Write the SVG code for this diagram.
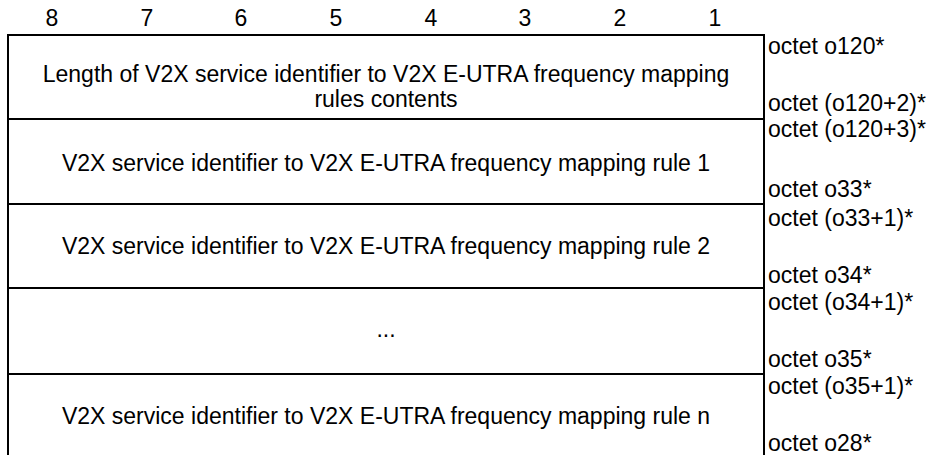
<svg xmlns="http://www.w3.org/2000/svg" width="934" height="455" viewBox="0 0 934 455">
<style>
text{font-family:"Liberation Sans",Arial,sans-serif;font-size:23px;fill:#000}
.c{text-anchor:middle}
.ln{stroke:#000;stroke-width:2;fill:none}
</style>
<rect width="934" height="455" fill="#fff"/>
<g id="header">
<text class="c" x="52" y="26">8</text>
<text class="c" x="147" y="26">7</text>
<text class="c" x="241" y="26">6</text>
<text class="c" x="336" y="26">5</text>
<text class="c" x="431" y="26">4</text>
<text class="c" x="525" y="26">3</text>
<text class="c" x="620" y="26">2</text>
<text class="c" x="715" y="26">1</text>
</g>
<g id="connectors">
<path class="ln" d="M8 35H764M8 119H764M8 204H764M8 288H764M8 374H764M8 34V455M764 34V455"/>
</g>
<g id="row1">
<text class="c" x="386" y="82">Length of V2X service identifier to V2X E-UTRA frequency mapping</text>
<text class="c" x="386" y="107">rules contents</text>
<text x="768" y="54">octet o120*</text>
<text x="768" y="111">octet (o120+2)*</text>
</g>
<g id="row2">
<text class="c" x="386" y="171">V2X service identifier to V2X E-UTRA frequency mapping rule 1</text>
<text x="768" y="137">octet (o120+3)*</text>
<text x="768" y="197">octet o33*</text>
</g>
<g id="row3">
<text class="c" x="386" y="254">V2X service identifier to V2X E-UTRA frequency mapping rule 2</text>
<text x="768" y="226">octet (o33+1)*</text>
<text x="768" y="283">octet o34*</text>
</g>
<g id="row4">
<text class="c" x="386" y="337">...</text>
<text x="768" y="310">octet (o34+1)*</text>
<text x="768" y="367">octet o35*</text>
</g>
<g id="row5">
<text class="c" x="386" y="424">V2X service identifier to V2X E-UTRA frequency mapping rule n</text>
<text x="768" y="394">octet (o35+1)*</text>
<text x="768" y="451">octet o28*</text>
</g>
</svg>
